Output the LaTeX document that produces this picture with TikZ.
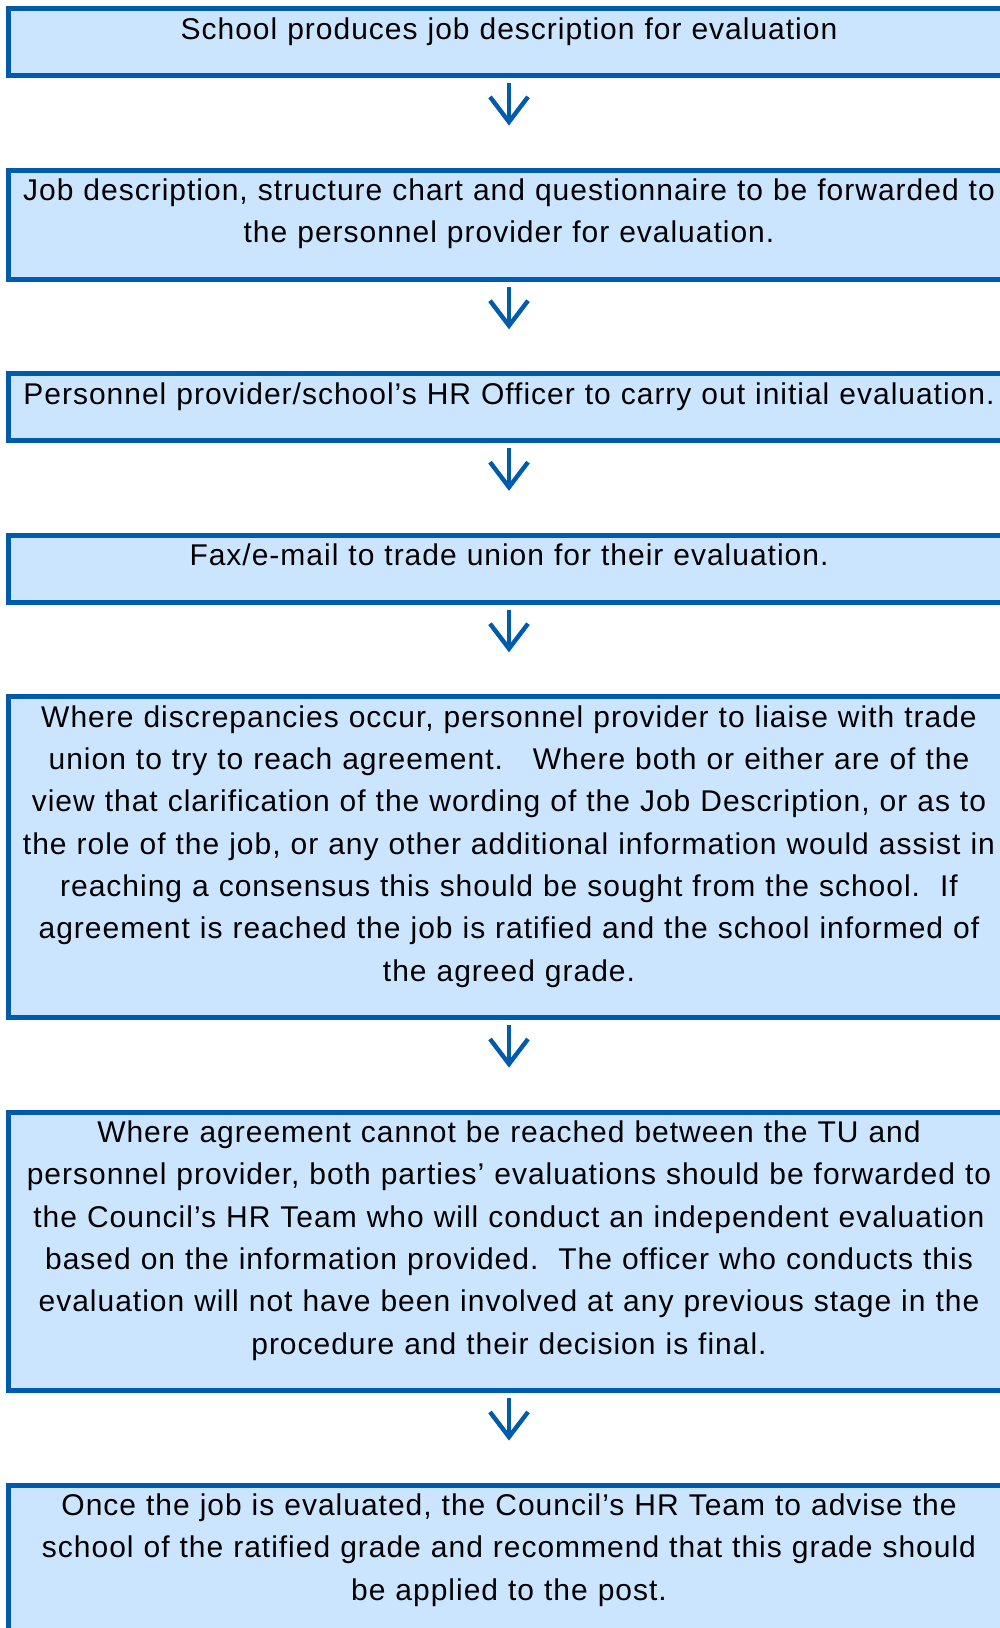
\documentclass[tikz,border=0pt]{standalone}
\usepackage{fontspec}
\setmainfont{Liberation Sans}[LetterSpace=3.3]
\usepackage{tikz}
\usetikzlibrary{arrows.meta,positioning}
\usepackage{xcolor}

\definecolor{hrblue}{RGB}{0,91,172}
\definecolor{hrfill}{RGB}{204,229,255}

\begin{document}
\begin{tikzpicture}[
    node distance=44.75pt,
    stepbox/.style={draw=hrblue,fill=hrfill,line width=2.5pt,text width=500.5pt,inner xsep=0pt,inner ysep=0pt,
        align=center,font=\fontsize{15pt}{21.15pt}\selectfont,
        execute at begin node={\rule{0pt}{15.25pt}},execute at end node={\rule[-18.25pt]{0pt}{18.25pt}}},
    arr/.style={-{Straight Barb[length=12.5pt,width=19pt]},line width=2.2pt,draw=hrblue,shorten <=2.35pt,shorten >=21pt}
]
\useasboundingbox (0,0) rectangle (500pt,-814pt);

\node[stepbox,anchor=north] (school) at (254.5pt,-3pt) {School produces job description for evaluation};
\node[stepbox,below=of school] (forward) {Job description, structure chart and questionnaire to be forwarded to\\
    the personnel provider for evaluation.};
\node[stepbox,below=of forward] (initial) {Personnel provider/school’s HR Officer to carry out initial evaluation.};
\node[stepbox,below=of initial] (union) {Fax/e-mail to trade union for their evaluation.};
\node[stepbox,below=of union] (liaise) {Where discrepancies occur, personnel provider to liaise with trade\\
    union to try to reach agreement.\ \ \ Where both or either are of the\\
    view that clarification of the wording of the Job Description, or as to\\
    the role of the job, or any other additional information would assist in\\
    reaching a consensus this should be sought from the school.\ \ If\\
    agreement is reached the job is ratified and the school informed of\\
    the agreed grade.};
\node[stepbox,below=of liaise] (council) {Where agreement cannot be reached between the TU and\\
    personnel provider, both parties’ evaluations should be forwarded to\\
    the Council’s HR Team who will conduct an independent evaluation\\
    based on the information provided.\ \ The officer who conducts this\\
    evaluation will not have been involved at any previous stage in the\\
    procedure and their decision is final.};
\node[stepbox,below=of council] (advise) {Once the job is evaluated, the Council’s HR Team to advise the\\
    school of the ratified grade and recommend that this grade should\\
    be applied to the post.};

\draw[arr] (school) -- (forward);
\draw[arr] (forward) -- (initial);
\draw[arr] (initial) -- (union);
\draw[arr] (union) -- (liaise);
\draw[arr] (liaise) -- (council);
\draw[arr] (council) -- (advise);
\end{tikzpicture}
\end{document}
